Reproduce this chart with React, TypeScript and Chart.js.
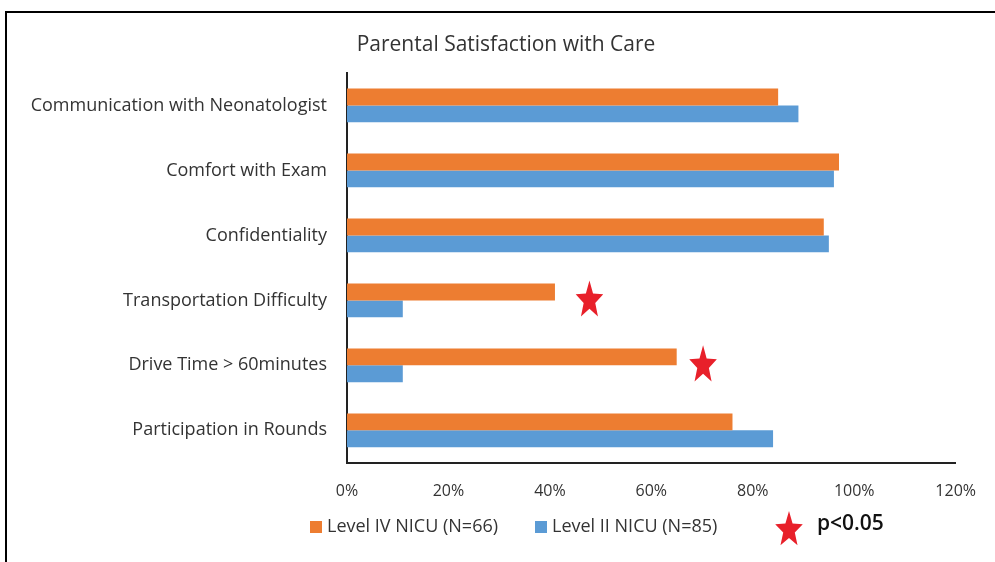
import React, { useEffect, useRef } from 'react';
import { Chart, registerables } from 'chart.js';

Chart.register(...registerables);

const categories = [
  'Communication with Neonatologist',
  'Comfort with Exam',
  'Confidentiality',
  'Transportation Difficulty',
  'Drive Time > 60minutes',
  'Participation in Rounds',
];
const levelIVValues = [85, 97, 94, 41, 65, 76];
const levelIIValues = [89, 96, 95, 11, 11, 84];
const seriesLabels = ['Level IV NICU (N=66)', 'Level II NICU (N=85)'];
const starCategories = ['Transportation Difficulty', 'Drive Time > 60minutes'];
const starValues = [47.8, 70.2];
const xTickValues = [0, 20, 40, 60, 80, 100, 120];
const significanceLabel = 'p<0.05';
const chartTitle = 'Parental Satisfaction with Care';

const ORANGE = '#ED7D31';
const BLUE = '#5B9BD5';
const STAR = '#E8202A';
const FONT = '"Open Sans", "DejaVu Sans", sans-serif';

function drawStar(ctx: CanvasRenderingContext2D, cx: number, cy: number, rx: number, ry: number) {
  ctx.beginPath();
  for (let i = 0; i < 10; i++) {
    const a = -Math.PI / 2 + (i * Math.PI) / 5;
    const k = i % 2 === 0 ? 1 : 0.42;
    const x = cx + Math.cos(a) * rx * k;
    const y = cy + Math.sin(a) * ry * k;
    if (i === 0) ctx.moveTo(x, y);
    else ctx.lineTo(x, y);
  }
  ctx.closePath();
  ctx.fillStyle = STAR;
  ctx.fill();
}

const overlayPlugin = {
  id: 'overlay',
  afterDraw(chart: any) {
    const ctx: CanvasRenderingContext2D = chart.ctx;
    const xs = chart.scales.x;
    const ys = chart.scales.y;
    ctx.save();
    // title
    ctx.font = `21px ${FONT}`;
    ctx.fillStyle = '#333333';
    ctx.textAlign = 'center';
    ctx.textBaseline = 'middle';
    ctx.fillText(chartTitle, 506, 45);
    // significance stars
    starCategories.forEach((cat, i) => {
      const idx = categories.indexOf(cat);
      const cx = xs.getPixelForValue(starValues[i]);
      const cy = ys.getPixelForValue(idx);
      drawStar(ctx, cx, cy, 14.5, 20);
    });
    // legend
    const ly = 527;
    ctx.font = `18px ${FONT}`;
    ctx.textBaseline = 'middle';
    ctx.textAlign = 'left';
    const ds = chart.data.datasets;
    const itemX = [310, 535];
    ds.forEach((d: any, i: number) => {
      ctx.fillStyle = d.backgroundColor;
      ctx.fillRect(itemX[i], ly - 6, 12, 12);
      ctx.fillStyle = '#333333';
      ctx.fillText(d.label, itemX[i] + 17, ly);
    });
    drawStar(ctx, 789, ly + 3, 14.5, 19);
    ctx.font = `600 21px ${FONT}`;
    ctx.fillStyle = '#111111';
    ctx.fillText(significanceLabel, 817, ly - 3);
    ctx.restore();
  },
};

export default function App() {
  const ref = useRef<HTMLCanvasElement | null>(null);
  useEffect(() => {
    if (!ref.current) return;
    const chart = new Chart(ref.current, {
      type: 'bar',
      data: {
        labels: categories,
        datasets: [
          {
            label: seriesLabels[0],
            data: levelIVValues,
            backgroundColor: ORANGE,
            categoryPercentage: 0.52,
            barPercentage: 1,
          },
          {
            label: seriesLabels[1],
            data: levelIIValues,
            backgroundColor: BLUE,
            categoryPercentage: 0.52,
            barPercentage: 1,
          },
        ],
      },
      options: {
        indexAxis: 'y',
        animation: false,
        responsive: false,
        layout: { padding: { left: 0, right: 37, top: 73, bottom: 42 } },
        plugins: {
          legend: { display: false },
          tooltip: { enabled: false },
          title: { display: false },
        },
        scales: {
          x: {
            min: 0,
            max: 120,
            afterBuildTicks: (s: any) => {
              s.ticks = xTickValues.map((v) => ({ value: v }));
            },
            ticks: {
              callback: (v: any) => `${v}%`,
              color: '#333333',
              font: { family: FONT, size: 16 },
              padding: 19,
              maxRotation: 0,
            },
            grid: { display: false, drawTicks: false },
            border: { display: true, color: '#222222', width: 2 },
          },
          y: {
            afterFit: (s: any) => {
              s.width = 347;
            },
            ticks: {
              color: '#333333',
              font: { family: FONT, size: 18 },
              padding: 20,
            },
            grid: { display: false, drawTicks: false },
            border: { display: true, color: '#222222', width: 2 },
          },
        },
      },
      plugins: [overlayPlugin],
    });
    return () => chart.destroy();
  }, []);
  return (
    <div style={{ position: 'fixed', left: 0, top: 0, width: 995, height: 562, background: '#fff' }}>
      <canvas ref={ref} width={995} height={562} style={{ display: 'block' }} />
      <div
        style={{
          position: 'absolute',
          left: 5,
          top: 11,
          right: 0,
          bottom: 0,
          borderTop: '2px solid #000',
          borderLeft: '2px solid #000',
          pointerEvents: 'none',
        }}
      />
    </div>
  );
}
